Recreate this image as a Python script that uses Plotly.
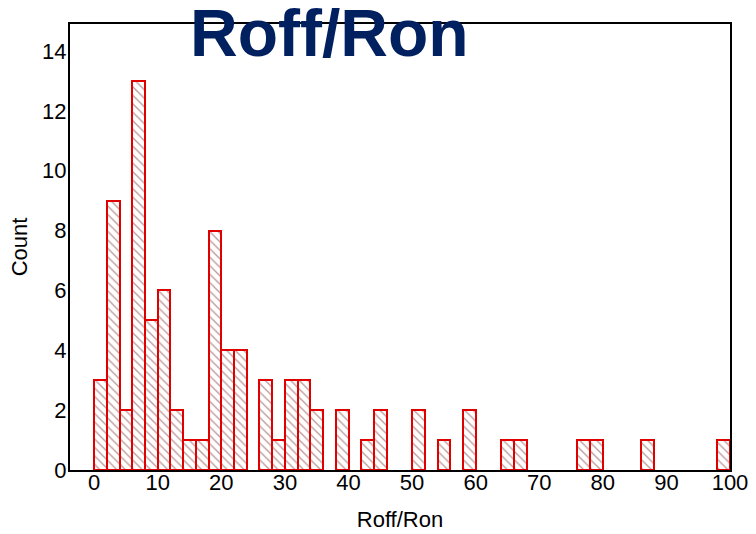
import plotly.graph_objects as go

# Histogram of Roff/Ron, bins of width 2 from 0 to 100
bin_edges_start = list(range(0, 100, 2))
counts = [3, 9, 2, 13, 5, 6, 2, 1, 1, 8,
          4, 4, 0, 3, 1, 3, 3, 2, 0, 2,
          0, 1, 2, 0, 0, 2, 0, 1, 0, 2,
          0, 0, 1, 1, 0, 0, 0, 0, 1, 1,
          0, 0, 0, 1, 0, 0, 0, 0, 0, 1]
bin_width = 2
x_ticks = list(range(0, 101, 10))
y_ticks = list(range(0, 15, 2))
title_text = "Roff/Ron"
x_label = "Roff/Ron"
y_label = "Count"

centers = [s + bin_width / 2 for s in bin_edges_start]
heights = [c if c > 0 else None for c in counts]

fig = go.Figure()
fig.add_trace(go.Bar(
    x=centers, y=heights, width=bin_width,
    marker=dict(
        color="white",
        line=dict(color="#E00000", width=2),
        pattern=dict(shape="\\", fgcolor="#7A3030", bgcolor="white", size=6, solidity=0.22),
    ),
    showlegend=False,
))

font = "Liberation Sans, Arial, sans-serif"
L, R, T, B = 70, 26, 24, 64
W, H = 756, 534
pw, ph = W - L - R, H - T - B

fig.update_layout(
    width=W, height=H,
    margin=dict(l=L, r=R, t=T, b=B, autoexpand=False),
    paper_bgcolor="white", plot_bgcolor="white",
    bargap=0,
    font=dict(family=font, size=22, color="black"),
    xaxis=dict(
        range=[-3.8, 100], tickvals=x_ticks, ticks="", showgrid=False, zeroline=False,
        showline=True, linecolor="black", linewidth=2, mirror=True, automargin=False,
        tickfont=dict(size=22), ticklabelstandoff=-8,
        title=dict(text=x_label, font=dict(size=22), standoff=17),
    ),
    yaxis=dict(
        range=[0, 14.9], tickvals=y_ticks, ticks="", showgrid=False, zeroline=False,
        showline=True, linecolor="black", linewidth=2, mirror=True, automargin=False,
        tickfont=dict(size=22), ticklabelstandoff=-3,
        title=dict(text=y_label, font=dict(size=22), standoff=8),
    ),
    annotations=[dict(
        text="<b>" + title_text + "</b>", xref="paper", yref="paper",
        x=(329 - L) / pw, y=1 + (T - 33) / ph, xanchor="center", yanchor="middle",
        showarrow=False, font=dict(family=font, size=66, color="#002060"),
    )],
)

fig.write_html("out.html")
